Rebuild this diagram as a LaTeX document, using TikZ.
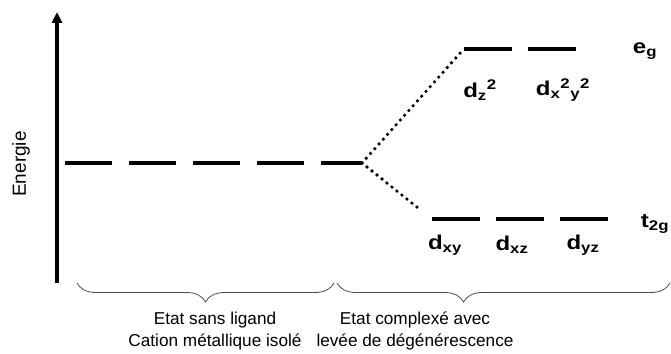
\documentclass[tikz,border=0pt]{standalone}
\usepackage{fontspec}
\setmainfont{Liberation Sans}
\newfontfamily\orbfont[FakeStretch=1.2]{Liberation Sans}
\usetikzlibrary{arrows.meta,decorations.pathreplacing}

\tikzset{
	niveau/.style={fill=black, inner sep=0pt, minimum width=48pt, minimum height=3.6pt},
	orbitale/.style={font=\orbfont\bfseries\fontsize{20}{20}\selectfont, inner sep=0pt},
	eclat/.style={line width=3.6pt, line cap=round, dash pattern=on 0pt off 6.4pt},
	accolade/.style={decorate, decoration={brace, mirror, amplitude=19pt}, line width=0.8pt, black!70},
	legende/.style={font=\fontsize{17.2}{22}\selectfont, align=center}
}

\begin{document}
\begin{tikzpicture}[x=1pt, y=-1pt]
		\useasboundingbox (0,0) rectangle (671,353);

		% axe des energies
		\coordinate (bas) at (57,283);
		\coordinate (haut) at (57,12);
		\draw[line width=3.4pt, -{Triangle[length=11pt, width=10pt]}] (bas) -- (haut);
		\node[rotate=90, font=\fontsize{19}{19}\selectfont] (energie) at (21,164) {Energie};

		% niveau degenere (cation isole)
		\coordinate (deg0) at (65,163);
		\coordinate (deg) at (362,163);
		\draw[line width=3.6pt, dash pattern=on 47pt off 17pt] (deg0) -- (deg);

		% niveaux eg et t2g
		\foreach \nom/\x in {eg1/488, eg2/552} {
			\node[niveau] (\nom) at (\x,49) {};
		}
		\foreach \nom/\x in {t1/456, t2/520, t3/584} {
			\node[niveau] (\nom) at (\x,219) {};
		}
		\draw[eclat] (deg) -- (eg1.west);
		\draw[eclat, shorten >=17pt] (deg) -- (t1.west);

		% etiquettes des orbitales
		\node[orbitale] (dz) at (480,90) {d\textsubscript{z}\textsuperscript{2}};
		\node[orbitale] (dxy2) at (563,90) {d\textsubscript{x}\textsuperscript{2}\textsubscript{y}\textsuperscript{2}};
		\node[orbitale] (eg) at (645,51) {e\textsubscript{g}};
		\node[orbitale] (dxy) at (445,245) {d\textsubscript{xy}};
		\node[orbitale] (dxz) at (512,245) {d\textsubscript{xz}};
		\node[orbitale] (dyz) at (583,245) {d\textsubscript{yz}};
		\node[orbitale] (t2g) at (655,224) {t\textsubscript{2g}};

		% accolades et legendes
		\coordinate (ag) at (77,283);
		\coordinate (am) at (334,283);
		\coordinate (ad) at (337,283);
		\coordinate (af) at (670,283);
		\draw[accolade] (ag) -- (am);
		\draw[accolade, decoration={aspect=0.38}] (ad) -- (af);
		\node[legende] (libre) at (215,331) {Etat sans ligand\\Cation métallique isolé};
		\node[legende] (complexe) at (415,331) {Etat complexé avec\\levée de dégénérescence};
	\end{tikzpicture}
\end{document}
